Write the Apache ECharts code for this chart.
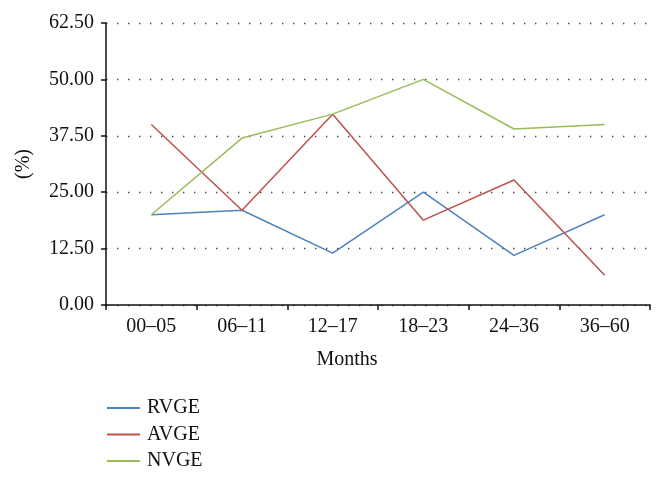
<!DOCTYPE html>
<html>
<head>
<meta charset="utf-8">
<script src="https://cdn.jsdelivr.net/npm/echarts@6/dist/echarts.min.js"></script>
<style>html,body{margin:0;padding:0;background:#fff}#c{width:665px;height:479px}</style>
</head>
<body>
<div id="c"></div>
<script>
var categories = ['00\u201305', '06\u201311', '12\u201317', '18\u201323', '24\u201336', '36\u201360'];
var rvge = [20.0, 21.0, 11.5, 25.0, 11.0, 20.0];
var avge = [40.0, 21.0, 42.3, 18.8, 27.7, 6.6];
var nvge = [20.0, 37.0, 42.3, 50.0, 39.0, 40.0];
var yTicks = { min: 0, max: 62.5, interval: 12.5 };

var font = 'Liberation Serif';
var fs = 20;
var chart = echarts.init(document.getElementById('c'));
chart.setOption({
  animation: false,
  backgroundColor: '#fff',
  grid: { left: 106, right: 15, top: 23, bottom: 174, containLabel: false },
  legend: {
    orient: 'vertical', left: 102, top: 393, height: 200,
    icon: 'rect', itemWidth: 33, itemHeight: 2, itemGap: 6.5,
    textStyle: { fontFamily: font, fontSize: fs, color: '#111', padding: [0, 0, 0, 2] },
    data: ['RVGE', 'AVGE', 'NVGE']
  },
  xAxis: {
    type: 'category', data: categories, boundaryGap: true,
    name: 'Months', nameLocation: 'middle', nameGap: 45,
    nameTextStyle: { fontFamily: font, fontSize: fs, color: '#111', padding: [0, 62, 0, 0] },
    axisLine: { lineStyle: { color: '#111', width: 1.5 } },
    axisTick: { show: true, length: 5, lineStyle: { color: '#111', width: 1.5 } },
    axisLabel: { fontFamily: font, fontSize: fs, color: '#111', margin: 12 },
    splitLine: { show: false }
  },
  yAxis: {
    type: 'value', min: yTicks.min, max: yTicks.max, interval: yTicks.interval,
    name: '(%)', nameLocation: 'middle', nameGap: 72, nameRotate: 90,
    nameTextStyle: { fontFamily: font, fontSize: fs, color: '#111' },
    axisLine: { show: true, lineStyle: { color: '#111', width: 1.5 } },
    axisTick: { show: true, length: 5, lineStyle: { color: '#111', width: 1.5 } },
    axisLabel: { fontFamily: font, fontSize: fs, color: '#111', margin: 12,
      formatter: function (v) { return v.toFixed(2); } },
    splitLine: { show: true, lineStyle: { color: '#444', width: 1.4, type: [1.4, 9.6] } }
  },
  series: [
    { name: 'RVGE', type: 'line', data: rvge, symbol: 'none', color: '#4f81bd', lineStyle: { width: 1.5 } },
    { name: 'AVGE', type: 'line', data: avge, symbol: 'none', color: '#c0504d', lineStyle: { width: 1.5 } },
    { name: 'NVGE', type: 'line', data: nvge, symbol: 'none', color: '#9bbb59', lineStyle: { width: 1.5 } }
  ]
});
</script>
</body>
</html>
